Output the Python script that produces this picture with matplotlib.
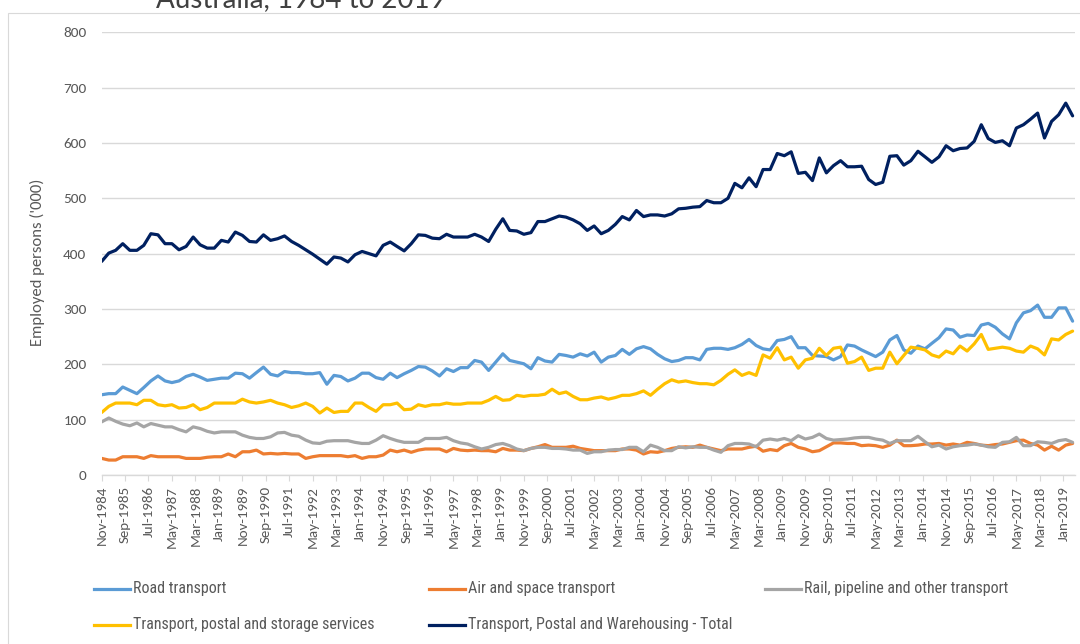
import matplotlib
matplotlib.use("Agg")
import matplotlib.pyplot as plt
import matplotlib.dates as mdates
from matplotlib import font_manager
from matplotlib.lines import Line2D
from matplotlib.patches import Rectangle
import pandas as pd

# ---------------- data ----------------
dates = pd.date_range("1984-11-01", periods=139, freq="3MS")

road = [145,147,147,159,153,147,158,170,179,170,167,170,178,182,177,171,173,175,175,184,183,175,185,195,182,179,187,185,185,183,183,185,164,180,178,170,175,184,184,176,173,184,176,183,189,196,195,
        188,179,192,187,194,194,207,204,189,204,219,207,204,201,192,212,206,204,218,216,213,219,215,222,204,213,216,227,218,228,232,228,218,210,205,207,212,212,208,227,229,229,227,230,236,245,
        234,228,226,243,245,250,230,230,216,215,214,208,214,235,233,226,220,214,222,244,252,226,220,233,228,238,248,264,262,249,253,252,271,274,267,255,246,275,293,297,307,285,285,302,302,278]

air = [30,27,27,33,33,33,30,35,33,33,33,33,30,30,30,32,33,33,38,33,42,42,45,38,39,38,39,38,38,30,33,35,35,35,35,33,35,30,33,33,36,45,42,45,41,45,47,
       47,47,42,48,45,44,45,44,44,42,48,45,45,44,48,51,55,50,50,50,52,48,46,44,44,44,44,47,47,45,38,42,41,44,48,50,51,50,54,50,47,44,47,47,47,50,
       52,43,46,44,53,57,50,47,42,44,51,58,58,57,57,53,54,53,50,54,63,53,53,54,56,56,57,54,56,54,59,57,54,53,55,56,59,62,63,57,54,45,52,45,54,57]

rail = [96,103,97,92,89,94,87,93,90,87,87,82,78,87,84,79,76,78,78,78,72,68,66,66,69,76,77,72,70,63,58,57,61,62,62,62,59,57,57,63,71,66,62,59,59,59,66,
        66,66,68,62,58,56,51,47,50,55,57,53,47,44,48,50,50,48,48,47,45,45,39,42,42,45,46,46,50,50,42,54,50,44,44,51,49,51,50,50,45,41,53,57,57,56,
        51,63,65,63,66,62,71,65,68,74,66,63,64,65,67,68,68,65,63,57,62,62,62,70,60,51,54,47,51,53,54,56,54,51,50,59,60,68,53,53,60,59,57,62,64,59]

services = [113,124,130,130,130,127,135,135,127,125,127,121,122,127,118,122,130,130,130,130,137,132,130,132,135,130,127,122,125,130,124,112,121,113,115,115,130,130,122,115,127,127,130,118,119,127,124,
            127,127,130,128,128,130,130,130,135,142,135,136,144,142,144,144,146,155,147,150,142,136,136,139,141,137,140,144,144,147,152,144,155,165,172,168,170,167,165,165,163,171,182,190,180,185,
            180,217,211,230,208,213,193,208,211,229,216,229,231,202,205,213,189,193,193,222,201,216,231,229,226,217,213,224,219,233,224,237,254,227,229,231,229,224,222,233,228,217,246,244,254,260]

total = [386,401,406,418,406,406,415,436,434,418,418,407,413,430,416,410,410,424,421,439,433,422,421,434,424,427,432,422,415,407,399,390,381,394,392,385,398,404,400,396,415,421,413,405,418,434,433,
         428,427,435,430,430,430,435,430,422,444,463,442,441,435,438,458,458,463,468,466,461,454,442,450,436,442,453,467,461,478,467,470,470,468,472,481,482,484,485,496,492,492,500,527,519,537,
         521,552,552,581,577,584,545,547,532,573,546,559,568,557,557,558,534,525,529,576,577,560,568,585,575,565,575,595,586,590,591,603,633,608,601,604,595,627,633,643,654,609,639,651,672,649]

series_names = ["Road transport", "Air and space transport", "Rail, pipeline and other transport",
                "Transport, postal and storage services", "Transport, Postal and Warehousing - Total"]
series_values = [road, air, rail, services, total]
series_colors = ["#5B9BD5", "#ED7D31", "#A5A5A5", "#FFC000", "#002060"]

tick_dates = pd.date_range("1984-11-01", "2019-01-01", freq="10MS")
y_ticks = [0, 100, 200, 300, 400, 500, 600, 700, 800]
y_label = "Employed persons ('000)"
title = "Australia, 1984 to 2019"

# ---------------- fonts ----------------
avail = {f.name for f in font_manager.fontManager.ttflist}
def pick(*names):
    for n in names:
        if n in avail:
            return n
    return "DejaVu Sans"
base_font = pick("Carlito", "Lato", "Open Sans")
narrow_font = pick("Liberation Sans Narrow", "DejaVu Sans Condensed", "Roboto Condensed", "Lato")
title_font = pick("Lato", "Open Sans")

# ---------------- figure ----------------
W, H = 1080, 644
fig = plt.figure(figsize=(W / 100, H / 100), dpi=100)
fig.patch.set_facecolor("white")

# chart border
fig.add_artist(Rectangle((8 / W, -0.05), 1.1, 1 - 13 / H + 0.05, transform=fig.transFigure,
                         fill=False, edgecolor="#D9D9D9", linewidth=0.8))

left, right = 101.7 / W, 1075 / W
bottom, top = 1 - 475 / H, 1 - 32.3 / H
ax = fig.add_axes([left, bottom, right - left, top - bottom])

for vals, name, col in zip(series_values, series_names, series_colors):
    ax.plot(dates, vals, color=col, lw=2.3, solid_joinstyle="round", solid_capstyle="round", label=name)

ax.set_ylim(0, 800)
ax.set_xlim(dates[0], dates[-1] + pd.Timedelta(days=31))
ax.set_yticks(y_ticks)
ax.yaxis.grid(True, color="#D9D9D9", lw=1)
ax.set_axisbelow(True)
for s in ["left", "right", "top"]:
    ax.spines[s].set_visible(False)
ax.spines["bottom"].set_color("#D9D9D9")
ax.spines["bottom"].set_linewidth(1)

ax.set_xticks(tick_dates)
ax.xaxis.set_major_formatter(mdates.DateFormatter("%b-%Y"))
ax.tick_params(axis="x", length=4, color="#D9D9D9", pad=4, labelsize=10.8, labelcolor="#595959",
               labelrotation=90)
ax.tick_params(axis="y", length=0, pad=11, labelsize=11, labelcolor="#595959")
for lab in ax.get_xticklabels() + ax.get_yticklabels():
    lab.set_fontfamily(base_font)

fig.text(37 / W, 1 - 262 / H, y_label, rotation=90, ha="center", va="center",
         fontsize=12, color="#595959", fontfamily=base_font)

# title (cut off at the top, as in the reference)
fig.text(301 / W, 1 - 7 / H, title, ha="center", va="baseline", fontsize=20,
         color="#404040", fontfamily=title_font)

# legend (manual placement)
leg_pos = [(94, 589), (429, 589), (765, 589), (94, 625), (429, 625)]
for (lx, ly), name, col in zip(leg_pos, series_names, series_colors):
    fig.add_artist(Line2D([lx / W, (lx + 36) / W], [1 - ly / H, 1 - ly / H],
                          transform=fig.transFigure, color=col, lw=2.3))
    fig.text((lx + 39) / W, 1 - ly / H, name, ha="left", va="center", fontsize=11.5,
             color="#595959", fontfamily=narrow_font)

fig.savefig("out.png", dpi=100)
